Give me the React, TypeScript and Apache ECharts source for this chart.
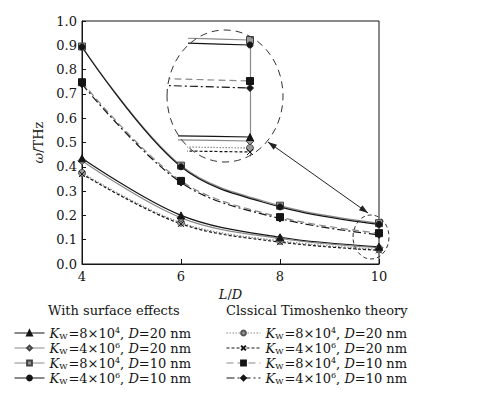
import React, { useEffect, useRef } from "react";
import * as echarts from "echarts";

const xValues = [4, 6, 8, 10];
const xTicks = [4, 6, 8, 10];
const surfD20K8e4 = [0.435, 0.2, 0.11, 0.071];
const surfD20K4e6 = [0.425, 0.19, 0.105, 0.067];
const surfD10K8e4 = [0.895, 0.405, 0.24, 0.168];
const surfD10K4e6 = [0.893, 0.4, 0.235, 0.163];
const clasD20K8e4 = [0.375, 0.17, 0.095, 0.06];
const clasD20K4e6 = [0.37, 0.165, 0.09, 0.056];
const clasD10K8e4 = [0.748, 0.342, 0.193, 0.127];
const clasD10K4e6 = [0.74, 0.335, 0.187, 0.12];

const leftTitle = "With surface effects";
const rightTitle = "Clssical Timoshenko theory";
const legendText: Record<string, string> = {
  s1: "{i|K}{sub|W}=8×10{sup|4}, {i|D}=20 nm",
  s2: "{i|K}{sub|W}=4×10{sup|6}, {i|D}=20 nm",
  s3: "{i|K}{sub|W}=8×10{sup|4}, {i|D}=10 nm",
  s4: "{i|K}{sub|W}=4×10{sup|6}, {i|D}=10 nm",
  c1: "{i|K}{sub|W}=8×10{sup|4}, {i|D}=20 nm",
  c2: "{i|K}{sub|W}=4×10{sup|6}, {i|D}=20 nm",
  c3: "{i|K}{sub|W}=8×10{sup|4}, {i|D}=10 nm",
  c4: "{i|K}{sub|W}=4×10{sup|6}, {i|D}=10 nm",
};

const FONT = "DejaVu Serif";
const BLACK = "#151515";
const GRAY = "#8a8a8a";

const CROSS = "path://M0,0L10,10M10,0L0,10";

type Spec = {
  name: string;
  data: number[];
  color: string;
  lineType: any;
  symbol: string;
  size: number;
  fill: string;
  border: string;
  group: number;
};

const specs: Spec[] = [
  { name: "c1", data: clasD20K8e4, color: GRAY, lineType: [1.5, 1.5], symbol: "circle", size: 7, fill: "#999", border: "#555", group: 3 },
  { name: "c2", data: clasD20K4e6, color: BLACK, lineType: [3, 2], symbol: CROSS, size: 6, fill: "none", border: BLACK, group: 3 },
  { name: "s2", data: surfD20K4e6, color: GRAY, lineType: "solid", symbol: "diamond", size: 8, fill: "#999", border: "#444", group: 2 },
  { name: "s1", data: surfD20K8e4, color: BLACK, lineType: "solid", symbol: "triangle", size: 7, fill: BLACK, border: BLACK, group: 2 },
  { name: "c3", data: clasD10K8e4, color: GRAY, lineType: [7, 4], symbol: "rect", size: 7, fill: BLACK, border: BLACK, group: 1 },
  { name: "c4", data: clasD10K4e6, color: BLACK, lineType: [8, 3, 2, 3], symbol: "diamond", size: 7, fill: BLACK, border: BLACK, group: 1 },
  { name: "s3", data: surfD10K8e4, color: GRAY, lineType: "solid", symbol: "rect", size: 7, fill: "#999", border: "#444", group: 0 },
  { name: "s4", data: surfD10K4e6, color: BLACK, lineType: "solid", symbol: "circle", size: 6, fill: BLACK, border: BLACK, group: 0 },
];

// inset layout (magnified region around L/D = 10)
const insetRight = 250;
const insetTop = 38;
const insetHeight = 118;
const insetYMin = 0.052;
const insetYMax = 0.17;
const insetPxPerUnit = 800;
const insetGroupLeft = [189, 170, 179, 188];

function buildOption() {
  const grids: any[] = [
    { left: 82, right: 124, top: 21, bottom: 131, show: true, borderColor: BLACK, borderWidth: 1 },
  ];
  const xAxes: any[] = [
    {
      type: "value", gridIndex: 0, min: 4, max: 10, interval: 2,
      axisLine: { lineStyle: { color: BLACK } },
      axisTick: { inside: true, length: 5, lineStyle: { color: BLACK } },
      axisLabel: { color: BLACK, fontFamily: FONT, fontSize: 13, margin: 6,
        formatter: (v: number) => (xTicks.includes(v) ? String(v) : "") },
      splitLine: { show: false },
      name: "{i|L}/{i|D}", nameLocation: "middle", nameGap: 24,
      nameTextStyle: { color: BLACK, fontFamily: FONT, fontSize: 13,
        rich: { i: { fontStyle: "italic", fontFamily: FONT, fontSize: 13, color: BLACK } } },
    },
  ];
  const yAxes: any[] = [
    {
      type: "value", gridIndex: 0, min: 0, max: 1, interval: 0.1,
      axisLine: { show: true, lineStyle: { color: BLACK } },
      axisTick: { inside: true, length: 4, lineStyle: { color: BLACK } },
      axisLabel: { color: BLACK, fontFamily: FONT, fontSize: 13, margin: 5,
        formatter: (v: number) => v.toFixed(1) },
      splitLine: { show: false },
      name: "{i|ω}/THz", nameLocation: "middle", nameGap: 34, nameRotate: 90,
      nameTextStyle: { color: BLACK, fontFamily: FONT, fontSize: 13,
        rich: { i: { fontStyle: "italic", fontFamily: FONT, fontSize: 13, color: BLACK } } },
    },
  ];
  insetGroupLeft.forEach((left, g) => {
    const width = insetRight - left;
    grids.push({ left, top: insetTop, width, height: insetHeight, show: false });
    xAxes.push({
      type: "value", gridIndex: g + 1, min: 10 - width / insetPxPerUnit, max: 10,
      show: false, splitLine: { show: false },
    });
    yAxes.push({
      type: "value", gridIndex: g + 1, min: insetYMin, max: insetYMax,
      position: "right",
      show: g === 1,
      axisLine: { show: true, lineStyle: { color: GRAY, width: 1.2 } },
      axisTick: { show: false }, axisLabel: { show: false }, splitLine: { show: false },
    });
  });

  const series: any[] = [];
  specs.forEach((s) => {
    const base = {
      type: "line",
      smooth: 0.35,
      data: s.data.map((v, i) => [xValues[i], v]),
      symbol: s.symbol,
      symbolSize: s.size,
      showSymbol: true,
      lineStyle: { color: s.color, width: 1.2, type: s.lineType },
      itemStyle: { color: s.fill, borderColor: s.border, borderWidth: 1 },
      emphasis: { disabled: true },
      clip: true,
    };
    series.push({ ...base, name: s.name, xAxisIndex: 0, yAxisIndex: 0 });
    series.push({ ...base, name: "inset-" + s.name, xAxisIndex: s.group + 1, yAxisIndex: s.group + 1 });
  });

  const rich = {
    i: { fontStyle: "italic", fontFamily: FONT, fontSize: 13, color: BLACK, lineHeight: 14 },
    sub: { fontSize: 8, fontFamily: FONT, color: BLACK, verticalAlign: "bottom", lineHeight: 14, padding: [0, 1, 0, 0] },
    sup: { fontSize: 8, fontFamily: FONT, color: BLACK, verticalAlign: "top", lineHeight: 14 },
  };
  const legendCommon = {
    orient: "vertical",
    top: 326,
    height: 68,
    itemHeight: 6,
    itemGap: 1,
    padding: 0,
    selectedMode: false,
    formatter: (n: string) => legendText[n],
    lineStyle: { width: 1 },
    textStyle: { fontFamily: FONT, fontSize: 13, color: BLACK, lineHeight: 14, rich },
  };

  // arrow geometry
  const ax0 = 268, ay0 = 142, ax1 = 368, ay1 = 213;
  const dx = ax1 - ax0, dy = ay1 - ay0;
  const len = Math.hypot(dx, dy);
  const ux = dx / len, uy = dy / len;
  const hl = 9, hw = 3;
  const head = (px: number, py: number, dir: number) => {
    const bx = px - dir * hl * ux, by = py - dir * hl * uy;
    return [[px, py], [bx - hw * uy, by + hw * ux], [bx + hw * uy, by - hw * ux]];
  };

  return {
    animation: false,
    backgroundColor: "#fff",
    grid: grids,
    xAxis: xAxes,
    yAxis: yAxes,
    legend: [
      { ...legendCommon, left: 14, itemWidth: 30, data: ["s1", "s2", "s3", "s4"] },
      { ...legendCommon, left: 226, itemWidth: 34, data: ["c1", "c2", "c3", "c4"] },
    ],
    series,
    graphic: [
      { type: "text", left: 48, top: 304, style: { text: leftTitle, font: `13px '${FONT}'`, fill: BLACK } },
      { type: "text", left: 226, top: 304, style: { text: rightTitle, font: `13px '${FONT}'`, fill: BLACK } },
      { type: "ellipse", shape: { cx: 225, cy: 96, rx: 58, ry: 66 }, z: 60,
        style: { fill: "none", stroke: "#333", lineWidth: 1, lineDash: [7, 5] } },
      { type: "ellipse", shape: { cx: 371, cy: 237, rx: 18, ry: 22 }, z: 60,
        style: { fill: "none", stroke: "#333", lineWidth: 1, lineDash: [4, 3] } },
      { type: "line", shape: { x1: ax0, y1: ay0, x2: ax1, y2: ay1 }, z: 60,
        style: { stroke: "#222", lineWidth: 1 } },
      { type: "polygon", shape: { points: head(ax1, ay1, 1) }, z: 60, style: { fill: "#222" } },
      { type: "polygon", shape: { points: head(ax0, ay0, -1) }, z: 60, style: { fill: "#222" } },
    ],
  };
}

export default function App() {
  const ref = useRef<HTMLDivElement>(null);
  useEffect(() => {
    if (!ref.current) return;
    const chart = echarts.init(ref.current, undefined, { renderer: "svg" });
    chart.setOption(buildOption() as any);
    return () => chart.dispose();
  }, []);
  return (
    <div
      ref={ref}
      style={{ position: "fixed", left: 0, top: 0, width: 503, height: 395, background: "#fff" }}
    />
  );
}
